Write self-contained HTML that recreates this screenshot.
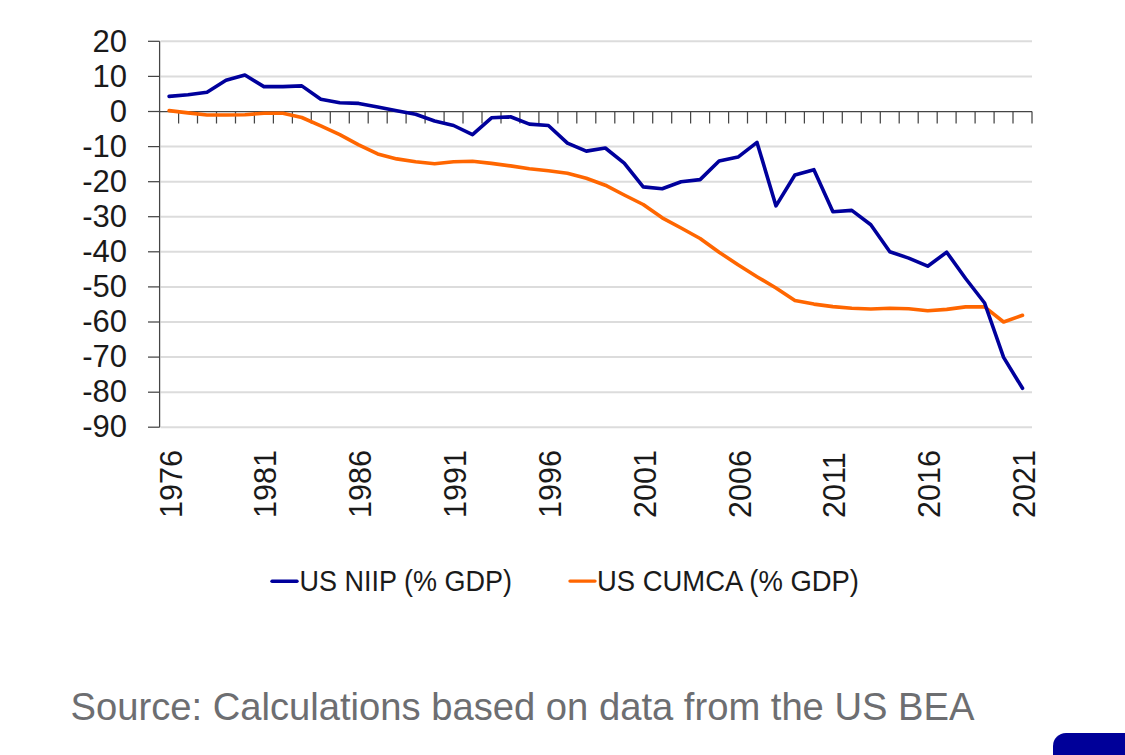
<!DOCTYPE html>
<html><head><meta charset="utf-8"><style>
html,body{margin:0;padding:0;background:#fff;width:1125px;height:755px;overflow:hidden;}
svg{display:block;}
text{font-family:"Liberation Sans",sans-serif;}
.yl{font-size:31px;fill:#1a1a1a;}
.xl{font-size:32px;fill:#1a1a1a;}
.lg{font-size:30px;fill:#1a1a1a;}
.src{font-size:39.5px;fill:#6d6e71;}
</style></head><body>
<svg width="1125" height="755" viewBox="0 0 1125 755">
<line x1="160.6" y1="41.3" x2="1032.0" y2="41.3" stroke="#dcdcdc" stroke-width="2"/>
<line x1="160.6" y1="76.4" x2="1032.0" y2="76.4" stroke="#dcdcdc" stroke-width="2"/>
<line x1="160.6" y1="146.6" x2="1032.0" y2="146.6" stroke="#dcdcdc" stroke-width="2"/>
<line x1="160.6" y1="181.7" x2="1032.0" y2="181.7" stroke="#dcdcdc" stroke-width="2"/>
<line x1="160.6" y1="216.7" x2="1032.0" y2="216.7" stroke="#dcdcdc" stroke-width="2"/>
<line x1="160.6" y1="251.8" x2="1032.0" y2="251.8" stroke="#dcdcdc" stroke-width="2"/>
<line x1="160.6" y1="286.9" x2="1032.0" y2="286.9" stroke="#dcdcdc" stroke-width="2"/>
<line x1="160.6" y1="322.0" x2="1032.0" y2="322.0" stroke="#dcdcdc" stroke-width="2"/>
<line x1="160.6" y1="357.1" x2="1032.0" y2="357.1" stroke="#dcdcdc" stroke-width="2"/>
<line x1="160.6" y1="392.2" x2="1032.0" y2="392.2" stroke="#dcdcdc" stroke-width="2"/>
<line x1="160.6" y1="427.2" x2="1032.0" y2="427.2" stroke="#dcdcdc" stroke-width="2"/>
<line x1="159.6" y1="41.3" x2="159.6" y2="427.2" stroke="#454545" stroke-width="1.25"/>
<line x1="148" y1="41.3" x2="159.6" y2="41.3" stroke="#454545" stroke-width="1.25"/>
<line x1="148" y1="76.4" x2="159.6" y2="76.4" stroke="#454545" stroke-width="1.25"/>
<line x1="148" y1="111.5" x2="159.6" y2="111.5" stroke="#454545" stroke-width="1.25"/>
<line x1="148" y1="146.6" x2="159.6" y2="146.6" stroke="#454545" stroke-width="1.25"/>
<line x1="148" y1="181.7" x2="159.6" y2="181.7" stroke="#454545" stroke-width="1.25"/>
<line x1="148" y1="216.7" x2="159.6" y2="216.7" stroke="#454545" stroke-width="1.25"/>
<line x1="148" y1="251.8" x2="159.6" y2="251.8" stroke="#454545" stroke-width="1.25"/>
<line x1="148" y1="286.9" x2="159.6" y2="286.9" stroke="#454545" stroke-width="1.25"/>
<line x1="148" y1="322.0" x2="159.6" y2="322.0" stroke="#454545" stroke-width="1.25"/>
<line x1="148" y1="357.1" x2="159.6" y2="357.1" stroke="#454545" stroke-width="1.25"/>
<line x1="148" y1="392.2" x2="159.6" y2="392.2" stroke="#454545" stroke-width="1.25"/>
<line x1="148" y1="427.2" x2="159.6" y2="427.2" stroke="#454545" stroke-width="1.25"/>
<line x1="159.6" y1="111.5" x2="1032.0" y2="111.5" stroke="#454545" stroke-width="1.25"/>
<line x1="178.6" y1="111.5" x2="178.6" y2="123.5" stroke="#454545" stroke-width="1.25"/>
<line x1="197.5" y1="111.5" x2="197.5" y2="123.5" stroke="#454545" stroke-width="1.25"/>
<line x1="216.5" y1="111.5" x2="216.5" y2="123.5" stroke="#454545" stroke-width="1.25"/>
<line x1="235.5" y1="111.5" x2="235.5" y2="123.5" stroke="#454545" stroke-width="1.25"/>
<line x1="254.4" y1="111.5" x2="254.4" y2="123.5" stroke="#454545" stroke-width="1.25"/>
<line x1="273.4" y1="111.5" x2="273.4" y2="123.5" stroke="#454545" stroke-width="1.25"/>
<line x1="292.4" y1="111.5" x2="292.4" y2="123.5" stroke="#454545" stroke-width="1.25"/>
<line x1="311.3" y1="111.5" x2="311.3" y2="123.5" stroke="#454545" stroke-width="1.25"/>
<line x1="330.3" y1="111.5" x2="330.3" y2="123.5" stroke="#454545" stroke-width="1.25"/>
<line x1="349.3" y1="111.5" x2="349.3" y2="123.5" stroke="#454545" stroke-width="1.25"/>
<line x1="368.2" y1="111.5" x2="368.2" y2="123.5" stroke="#454545" stroke-width="1.25"/>
<line x1="387.2" y1="111.5" x2="387.2" y2="123.5" stroke="#454545" stroke-width="1.25"/>
<line x1="406.1" y1="111.5" x2="406.1" y2="123.5" stroke="#454545" stroke-width="1.25"/>
<line x1="425.1" y1="111.5" x2="425.1" y2="123.5" stroke="#454545" stroke-width="1.25"/>
<line x1="444.1" y1="111.5" x2="444.1" y2="123.5" stroke="#454545" stroke-width="1.25"/>
<line x1="463.0" y1="111.5" x2="463.0" y2="123.5" stroke="#454545" stroke-width="1.25"/>
<line x1="482.0" y1="111.5" x2="482.0" y2="123.5" stroke="#454545" stroke-width="1.25"/>
<line x1="501.0" y1="111.5" x2="501.0" y2="123.5" stroke="#454545" stroke-width="1.25"/>
<line x1="519.9" y1="111.5" x2="519.9" y2="123.5" stroke="#454545" stroke-width="1.25"/>
<line x1="538.9" y1="111.5" x2="538.9" y2="123.5" stroke="#454545" stroke-width="1.25"/>
<line x1="557.9" y1="111.5" x2="557.9" y2="123.5" stroke="#454545" stroke-width="1.25"/>
<line x1="576.8" y1="111.5" x2="576.8" y2="123.5" stroke="#454545" stroke-width="1.25"/>
<line x1="595.8" y1="111.5" x2="595.8" y2="123.5" stroke="#454545" stroke-width="1.25"/>
<line x1="614.8" y1="111.5" x2="614.8" y2="123.5" stroke="#454545" stroke-width="1.25"/>
<line x1="633.7" y1="111.5" x2="633.7" y2="123.5" stroke="#454545" stroke-width="1.25"/>
<line x1="652.7" y1="111.5" x2="652.7" y2="123.5" stroke="#454545" stroke-width="1.25"/>
<line x1="671.7" y1="111.5" x2="671.7" y2="123.5" stroke="#454545" stroke-width="1.25"/>
<line x1="690.6" y1="111.5" x2="690.6" y2="123.5" stroke="#454545" stroke-width="1.25"/>
<line x1="709.6" y1="111.5" x2="709.6" y2="123.5" stroke="#454545" stroke-width="1.25"/>
<line x1="728.6" y1="111.5" x2="728.6" y2="123.5" stroke="#454545" stroke-width="1.25"/>
<line x1="747.5" y1="111.5" x2="747.5" y2="123.5" stroke="#454545" stroke-width="1.25"/>
<line x1="766.5" y1="111.5" x2="766.5" y2="123.5" stroke="#454545" stroke-width="1.25"/>
<line x1="785.5" y1="111.5" x2="785.5" y2="123.5" stroke="#454545" stroke-width="1.25"/>
<line x1="804.4" y1="111.5" x2="804.4" y2="123.5" stroke="#454545" stroke-width="1.25"/>
<line x1="823.4" y1="111.5" x2="823.4" y2="123.5" stroke="#454545" stroke-width="1.25"/>
<line x1="842.3" y1="111.5" x2="842.3" y2="123.5" stroke="#454545" stroke-width="1.25"/>
<line x1="861.3" y1="111.5" x2="861.3" y2="123.5" stroke="#454545" stroke-width="1.25"/>
<line x1="880.3" y1="111.5" x2="880.3" y2="123.5" stroke="#454545" stroke-width="1.25"/>
<line x1="899.2" y1="111.5" x2="899.2" y2="123.5" stroke="#454545" stroke-width="1.25"/>
<line x1="918.2" y1="111.5" x2="918.2" y2="123.5" stroke="#454545" stroke-width="1.25"/>
<line x1="937.2" y1="111.5" x2="937.2" y2="123.5" stroke="#454545" stroke-width="1.25"/>
<line x1="956.1" y1="111.5" x2="956.1" y2="123.5" stroke="#454545" stroke-width="1.25"/>
<line x1="975.1" y1="111.5" x2="975.1" y2="123.5" stroke="#454545" stroke-width="1.25"/>
<line x1="994.1" y1="111.5" x2="994.1" y2="123.5" stroke="#454545" stroke-width="1.25"/>
<line x1="1013.0" y1="111.5" x2="1013.0" y2="123.5" stroke="#454545" stroke-width="1.25"/>
<line x1="1032.0" y1="111.5" x2="1032.0" y2="123.5" stroke="#454545" stroke-width="1.25"/>
<text x="127" y="51.5" text-anchor="end" class="yl">20</text>
<text x="127" y="86.6" text-anchor="end" class="yl">10</text>
<text x="127" y="121.7" text-anchor="end" class="yl">0</text>
<text x="127" y="156.8" text-anchor="end" class="yl">-10</text>
<text x="127" y="191.9" text-anchor="end" class="yl">-20</text>
<text x="127" y="226.9" text-anchor="end" class="yl">-30</text>
<text x="127" y="262.0" text-anchor="end" class="yl">-40</text>
<text x="127" y="297.1" text-anchor="end" class="yl">-50</text>
<text x="127" y="332.2" text-anchor="end" class="yl">-60</text>
<text x="127" y="367.3" text-anchor="end" class="yl">-70</text>
<text x="127" y="402.4" text-anchor="end" class="yl">-80</text>
<text x="127" y="437.4" text-anchor="end" class="yl">-90</text>
<text transform="translate(181.6,518) rotate(-90) scale(0.955,1)" class="xl">1976</text>
<text transform="translate(276.4,518) rotate(-90) scale(0.955,1)" class="xl">1981</text>
<text transform="translate(371.2,518) rotate(-90) scale(0.955,1)" class="xl">1986</text>
<text transform="translate(466.1,518) rotate(-90) scale(0.955,1)" class="xl">1991</text>
<text transform="translate(560.9,518) rotate(-90) scale(0.955,1)" class="xl">1996</text>
<text transform="translate(655.7,518) rotate(-90) scale(0.955,1)" class="xl">2001</text>
<text transform="translate(750.5,518) rotate(-90) scale(0.955,1)" class="xl">2006</text>
<text transform="translate(845.4,518) rotate(-90) scale(0.955,1)" class="xl">2011</text>
<text transform="translate(940.2,518) rotate(-90) scale(0.955,1)" class="xl">2016</text>
<text transform="translate(1035.0,518) rotate(-90) scale(0.955,1)" class="xl">2021</text>
<polyline points="169.1,110.6 188.0,112.9 207.0,115.0 226.0,115.0 244.9,114.7 263.9,113.3 282.9,113.3 301.8,117.5 320.8,125.9 339.8,134.7 358.7,144.8 377.7,153.9 396.7,158.9 415.6,161.7 434.6,163.8 453.6,161.7 472.5,161.3 491.5,163.4 510.5,165.9 529.4,168.7 548.4,170.8 567.4,173.2 586.3,178.2 605.3,185.2 624.2,195.0 643.2,204.5 662.2,217.8 681.1,228.0 700.1,238.5 719.1,252.2 738.0,264.8 757.0,276.7 776.0,288.0 794.9,300.6 813.9,304.1 832.9,306.6 851.8,308.3 870.8,309.0 889.8,308.3 908.7,308.7 927.7,310.8 946.7,309.4 965.6,306.9 984.6,306.9 1003.6,322.0 1022.5,315.3" fill="none" stroke="#ff6600" stroke-width="3.6" stroke-linejoin="round" stroke-linecap="round"/>
<polyline points="169.1,96.4 188.0,94.7 207.0,92.2 226.0,80.3 244.9,75.0 263.9,86.6 282.9,86.6 301.8,85.9 320.8,99.2 339.8,102.7 358.7,103.4 377.7,106.9 396.7,110.8 415.6,114.3 434.6,121.0 453.6,125.5 472.5,134.7 491.5,117.8 510.5,116.8 529.4,124.1 548.4,125.5 567.4,143.1 586.3,151.1 605.3,148.0 624.2,163.1 643.2,186.9 662.2,188.7 681.1,181.7 700.1,179.6 719.1,161.0 738.0,157.1 757.0,142.4 776.0,205.9 794.9,175.0 813.9,169.7 832.9,211.8 851.8,210.4 870.8,224.8 889.8,251.8 908.7,258.1 927.7,266.2 946.7,252.2 965.6,278.5 984.6,303.0 1003.6,357.4 1022.5,388.3" fill="none" stroke="#00009c" stroke-width="3.6" stroke-linejoin="round" stroke-linecap="round"/>
<line x1="272" y1="581.2" x2="297" y2="581.2" stroke="#00009c" stroke-width="3.4" stroke-linecap="round"/>
<text x="299.5" y="590.5" class="lg" textLength="212.5" lengthAdjust="spacingAndGlyphs">US NIIP (% GDP)</text>
<line x1="570" y1="581.1" x2="595" y2="581.1" stroke="#ff6600" stroke-width="3.4" stroke-linecap="round"/>
<text x="597" y="590.5" class="lg" textLength="262" lengthAdjust="spacingAndGlyphs">US CUMCA (% GDP)</text>
<text x="70.5" y="720" class="src" textLength="904" lengthAdjust="spacingAndGlyphs">Source: Calculations based on data from the US BEA</text>
<rect x="1053" y="733" width="100" height="60" rx="13" ry="13" fill="#000099"/>
</svg>
</body></html>
